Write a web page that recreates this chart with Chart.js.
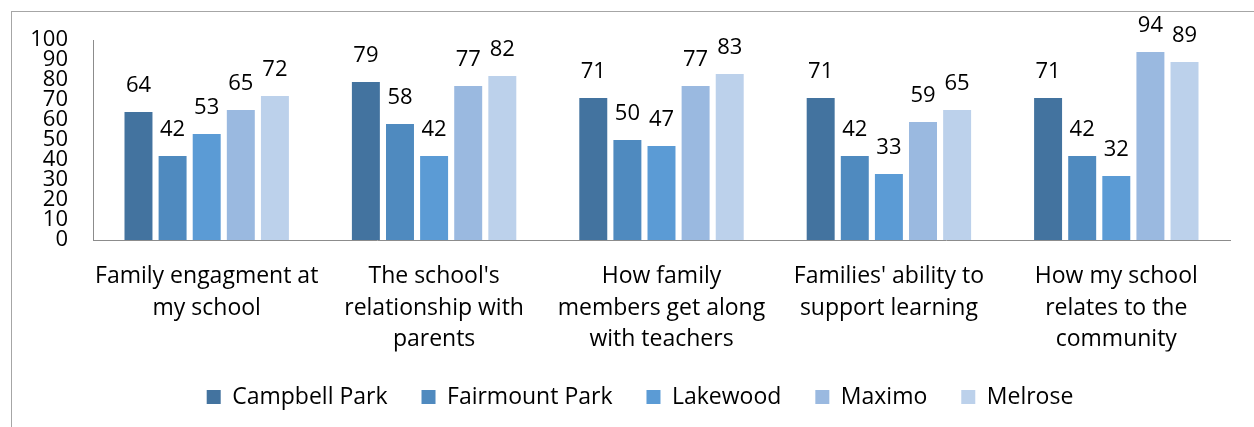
<!DOCTYPE html>
<html>
<head>
<meta charset="utf-8">
<script src="https://cdn.jsdelivr.net/npm/chart.js@4"></script>
<style>
  html, body { margin:0; padding:0; background:#fff; }
  #wrap { position:relative; width:1254px; height:427px; }
  #frame { position:absolute; left:11px; top:11px; width:1300px; height:500px; border-left:1px solid #a6a6a6; border-top:1px solid #a6a6a6; box-sizing:border-box; }
  canvas { position:absolute; left:0; top:0; }
</style>
</head>
<body>
<div id="wrap">
  <div id="frame"></div>
  <canvas id="c" width="1254" height="427"></canvas>
</div>
<script>
const categories = [
  ["Family engagment at", "my school"],
  ["The school's", "relationship with", "parents"],
  ["How family", "members get along", "with teachers"],
  ["Families' ability to", "support learning"],
  ["How my school", "relates to the", "community"]
];
const seriesNames = ["Campbell Park", "Fairmount Park", "Lakewood", "Maximo", "Melrose"];
const campbellPark = [64, 79, 71, 71, 71];
const fairmountPark = [42, 58, 50, 42, 42];
const lakewood = [53, 42, 47, 33, 32];
const maximo = [65, 77, 77, 59, 94];
const melrose = [72, 82, 83, 65, 89];
const yTicks = [0, 10, 20, 30, 40, 50, 60, 70, 80, 90, 100];
const colors = ["#43739f", "#4f8abf", "#5b9bd5", "#9ab9e0", "#bcd1eb"];

const seriesValues = [campbellPark, fairmountPark, lakewood, maximo, melrose];
const FONT = "'Open Sans', sans-serif";

const dataLabels = {
  id: 'dataLabels',
  afterDatasetsDraw(chart) {
    const ctx = chart.ctx;
    ctx.save();
    ctx.font = "22px " + FONT;
    ctx.fillStyle = "#000";
    ctx.textAlign = "center";
    ctx.textBaseline = "middle";
    chart.data.datasets.forEach((ds, i) => {
      chart.getDatasetMeta(i).data.forEach((bar, j) => {
        ctx.fillText(String(ds.data[j]), bar.x, bar.y - 26);
      });
    });
    ctx.restore();
  }
};

const legendShift = {
  id: 'legendShift',
  beforeDraw(chart) {
    const lg = chart.legend;
    if (lg && !lg._shifted) {
      lg.left += 25; lg.right += 25;
      lg._shifted = true;
    }
  }
};

new Chart(document.getElementById('c'), {
  type: 'bar',
  data: {
    labels: categories,
    datasets: seriesNames.map((n, i) => ({
      label: n,
      data: seriesValues[i],
      backgroundColor: colors[i],
      borderWidth: 0,
      categoryPercentage: 0.75,
      barPercentage: 0.82
    }))
  },
  options: {
    responsive: false,
    animation: false,
    devicePixelRatio: 1,
    layout: { padding: { left: 0, right: 24, top: 40, bottom: 8.5 } },
    plugins: {
      tooltip: { enabled: false },
      legend: {
        position: 'bottom',
        labels: {
          font: { family: FONT, size: 23 },
          color: '#000',
          boxWidth: 14,
          boxHeight: 14,
          padding: 34
        }
      }
    },
    scales: {
      x: {
        grid: { display: false, drawTicks: false },
        border: { display: true, color: '#8c8c8c', width: 1 },
        ticks: {
          font: { family: FONT, size: 23, lineHeight: 1.39 },
          color: '#000',
          padding: 20,
          maxRotation: 0,
          autoSkip: false
        },
        afterFit(scale) { scale.height = 111.5; }
      },
      y: {
        min: 0, max: 100,
        afterBuildTicks(scale) { scale.ticks = yTicks.map(v => ({ value: v })); },
        grid: { display: false, drawTicks: false },
        border: { display: true, color: '#8c8c8c', width: 1 },
        ticks: {
          font: { family: FONT, size: 22 },
          color: '#000',
          padding: 25,
          autoSkip: false
        },
        afterFit(scale) { scale.width = 93; }
      }
    }
  },
  plugins: [dataLabels, legendShift]
});
</script>
</body>
</html>
